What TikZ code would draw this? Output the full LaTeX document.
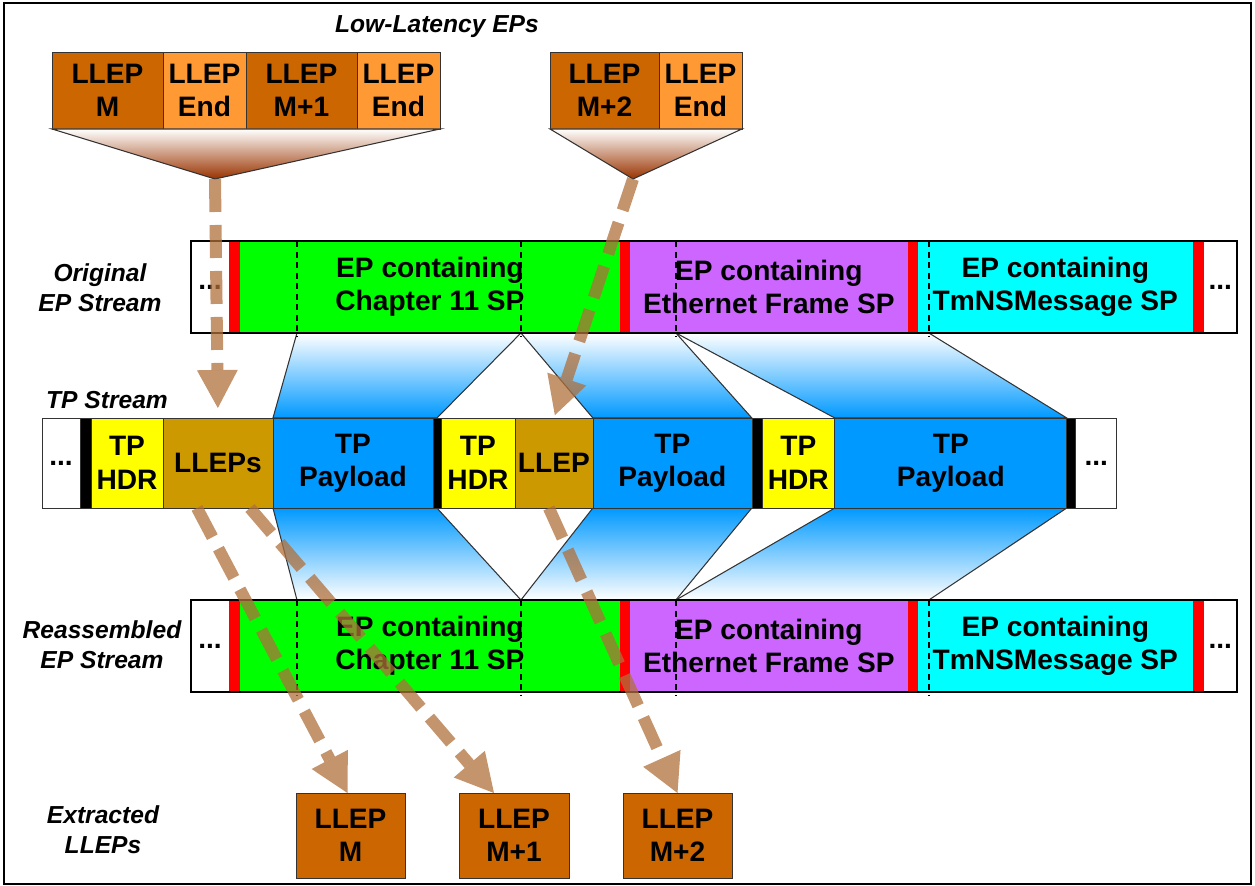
\documentclass[tikz,border=0pt]{standalone}
\usepackage{fontspec}
\setmainfont{Liberation Sans}
\usetikzlibrary{arrows.meta,positioning,backgrounds,calc}
\definecolor{lldark}{RGB}{204,102,0}
\definecolor{lllight}{RGB}{255,153,51}
\definecolor{hdryellow}{RGB}{255,255,0}
\definecolor{lltan}{RGB}{204,153,0}
\definecolor{tpblue}{RGB}{0,153,255}
\definecolor{epgreen}{RGB}{0,255,0}
\definecolor{eppurple}{RGB}{204,102,255}
\definecolor{epcyan}{RGB}{0,255,255}
\definecolor{epred}{RGB}{255,0,0}
\definecolor{arrowtan}{RGB}{176,112,59}
\definecolor{funnelbrown}{RGB}{153,51,0}
\tikzstyle{cell} = [rectangle, draw = black!80, inner sep = 0pt, outer sep = 0pt, align = center]
\tikzstyle{llep} = [cell, minimum height = 1.54cm]
\tikzstyle{tpseg} = [cell, minimum height = 1.8cm]
\tikzstyle{seg} = [rectangle, inner sep = 0pt, outer sep = 0pt, minimum height = 1.84cm, align = center]
\tikzstyle{lbl} = [align = center, font = \fontsize{14}{17}\selectfont\bfseries\itshape]
\tikzstyle{cutline} = [line width = 1pt, dash pattern = on 3.5pt off 2.5pt]
\tikzstyle{wedge} = [draw = black!80, line width = 0.6pt]
\tikzstyle{carry} = [draw = arrowtan, line width = 0.24cm, opacity = 0.75, dash pattern = on 0.66cm off 0.26cm, -{Triangle[width = 0.82cm, length = 0.76cm, line width = 0pt]}]

\begin{document}
\begin{tikzpicture}[x = 0.02cm, y = -0.02cm, font = \fontsize{16}{19}\selectfont\bfseries]
        \useasboundingbox (0,0) rectangle (1255,886);
        \draw [line width = 1.2pt] (4,3) rectangle (1251,884);
        % low-latency EPs
        \node (lowlat) [lbl] at (437,27) {Low-Latency EPs};
        \node (lm) [llep, fill = lldark, minimum width = 2.22cm, anchor = north west] at (52,52) {LLEP\\M};
        \node (le1) [llep, fill = lllight, minimum width = 1.66cm, right = 0pt of lm] {LLEP\\End};
        \node (lm1) [llep, fill = lldark, minimum width = 2.22cm, right = 0pt of le1] {LLEP\\M+1};
        \node (le2) [llep, fill = lllight, minimum width = 1.66cm, right = 0pt of lm1] {LLEP\\End};
        \node (lm2) [llep, fill = lldark, minimum width = 2.18cm, anchor = north west] at (550,52) {LLEP\\M+2};
        \node (le3) [llep, fill = lllight, minimum width = 1.66cm, right = 0pt of lm2] {LLEP\\End};
        \coordinate (fa) at (215,179);
        \coordinate (fb) at (633,179);
        \shade [wedge, top color = white, bottom color = funnelbrown] (lm.south west) -- (le2.south east) -- (fa) -- cycle;
        \shade [wedge, top color = white, bottom color = funnelbrown] (lm2.south west) -- (le3.south east) -- (fb) -- cycle;
        % original EP stream
        \node (origlbl) [lbl] at (100,288) {Original\\EP Stream};
        \node (od) [seg, minimum width = 0.76cm, anchor = north west] at (191,241) {...};
        \node (or1) [seg, fill = epred, minimum width = 0.22cm, right = 0pt of od] {};
        \node (og) [seg, fill = epgreen, minimum width = 7.6cm, right = 0pt of or1] {EP containing\\Chapter 11 SP};
        \node (or2) [seg, fill = epred, minimum width = 0.2cm, right = 0pt of og] {};
        \node (op) [seg, fill = eppurple, minimum width = 5.56cm, right = 0pt of or2] {EP containing\\Ethernet Frame SP};
        \node (or3) [seg, fill = epred, minimum width = 0.2cm, right = 0pt of op] {};
        \node (oc) [seg, fill = epcyan, minimum width = 5.5cm, right = 0pt of or3] {EP containing\\TmNSMessage SP};
        \node (or4) [seg, fill = epred, minimum width = 0.22cm, right = 0pt of oc] {};
        \node (oe) [seg, minimum width = 0.66cm, right = 0pt of or4] {...};
        \draw [line width = 0.8pt] (od.north west) rectangle (oe.south east);
        % TP stream
        \node (tplbl) [lbl] at (107,400) {TP Stream};
        \node (td) [tpseg, minimum width = 0.76cm, anchor = north west] at (42,418) {...};
        \node (k1) [tpseg, fill = black, minimum width = 0.22cm, right = 0pt of td] {};
        \node (h1) [tpseg, fill = hdryellow, minimum width = 1.44cm, right = 0pt of k1] {TP\\HDR};
        \node (lleps) [tpseg, fill = lltan, minimum width = 2.2cm, right = 0pt of h1] {LLEPs};
        \node (p1) [tpseg, fill = tpblue, minimum width = 3.2cm, right = 0pt of lleps] {TP\\Payload};
        \node (k2) [tpseg, fill = black, minimum width = 0.16cm, right = 0pt of p1] {};
        \node (h2) [tpseg, fill = hdryellow, minimum width = 1.48cm, right = 0pt of k2] {TP\\HDR};
        \node (llep) [tpseg, fill = lltan, minimum width = 1.56cm, right = 0pt of h2] {LLEP};
        \node (p2) [tpseg, fill = tpblue, minimum width = 3.18cm, right = 0pt of llep] {TP\\Payload};
        \node (k3) [tpseg, fill = black, minimum width = 0.2cm, right = 0pt of p2] {};
        \node (h3) [tpseg, fill = hdryellow, minimum width = 1.46cm, right = 0pt of k3] {TP\\HDR};
        \node (p3) [tpseg, fill = tpblue, minimum width = 4.64cm, right = 0pt of h3] {TP\\Payload};
        \node (k4) [tpseg, fill = black, minimum width = 0.18cm, right = 0pt of p3] {};
        \node (te) [tpseg, minimum width = 0.82cm, right = 0pt of k4] {...};
        % reassembled EP stream
        \node (reaslbl) [lbl] at (102,645) {Reassembled\\EP Stream};
        \node (rd) [seg, minimum width = 0.76cm, anchor = north west] at (191,600) {...};
        \node (rr1) [seg, fill = epred, minimum width = 0.22cm, right = 0pt of rd] {};
        \node (rg) [seg, fill = epgreen, minimum width = 7.6cm, right = 0pt of rr1] {EP containing\\Chapter 11 SP};
        \node (rr2) [seg, fill = epred, minimum width = 0.2cm, right = 0pt of rg] {};
        \node (rp) [seg, fill = eppurple, minimum width = 5.56cm, right = 0pt of rr2] {EP containing\\Ethernet Frame SP};
        \node (rr3) [seg, fill = epred, minimum width = 0.2cm, right = 0pt of rp] {};
        \node (rc) [seg, fill = epcyan, minimum width = 5.5cm, right = 0pt of rr3] {EP containing\\TmNSMessage SP};
        \node (rr4) [seg, fill = epred, minimum width = 0.22cm, right = 0pt of rc] {};
        \node (re) [seg, minimum width = 0.66cm, right = 0pt of rr4] {...};
        \draw [line width = 0.8pt] (rd.north west) rectangle (re.south east);
        % SP boundaries
        \coordinate (o1) at ([xshift = 1.14cm]og.south west);
        \coordinate (o2) at ([xshift = 5.62cm]og.south west);
        \coordinate (o3) at ([xshift = 0.92cm]op.south west);
        \coordinate (o4) at ([xshift = 0.22cm]oc.south west);
        \coordinate (r1) at ([xshift = 1.14cm]rg.north west);
        \coordinate (r2) at ([xshift = 5.62cm]rg.north west);
        \coordinate (r3) at ([xshift = 0.92cm]rp.north west);
        \coordinate (r4) at ([xshift = 0.22cm]rc.north west);
        \foreach \c in {o1,o2,o3,o4}
            \draw [cutline] (\c |- og.north) -- ($(\c)+(0,4)$);
        \foreach \c in {r1,r2,r3,r4}
            \draw [cutline] (\c) -- ($(\c |- rg.south)+(0,4)$);
        \begin{scope}[on background layer]
            \shade [wedge, top color = white, bottom color = tpblue] (o1) -- (o2) -- (k2.north) -- (p1.north west) -- cycle;
            \shade [wedge, top color = white, bottom color = tpblue] (o2) -- (o3) -- (p2.north east) -- (p2.north west) -- cycle;
            \shade [wedge, top color = white, bottom color = tpblue] (o3) -- (o4) -- (p3.north east) -- (p3.north west) -- cycle;
            \shade [wedge, top color = tpblue, bottom color = white] (p1.south west) -- (k2.south) -- (r2) -- (r1) -- cycle;
            \shade [wedge, top color = tpblue, bottom color = white] (p2.south west) -- (p2.south east) -- (r3) -- (r2) -- cycle;
            \shade [wedge, top color = tpblue, bottom color = white] (p3.south west) -- (p3.south east) -- (r4) -- (r3) -- cycle;
        \end{scope}
        % extracted LLEPs
        \node (extlbl) [lbl] at (103,830) {Extracted\\LLEPs};
        \node (xm) [llep, fill = lldark, minimum width = 2.18cm, minimum height = 1.7cm] at (350.5,835.5) {LLEP\\M};
        \node (xm1) [llep, fill = lldark, minimum width = 2.2cm, minimum height = 1.7cm] at (514,835.5) {LLEP\\M+1};
        \node (xm2) [llep, fill = lldark, minimum width = 2.18cm, minimum height = 1.7cm] at (677.5,835.5) {LLEP\\M+2};
        % LLEP paths
        \draw [carry, shorten > = 0.2cm] (fa) -- (lleps.north);
        \draw [carry, shorten > = 0.06cm] (fb) -- (llep.north);
        \draw [carry] ([xshift = -0.42cm]lleps.south) -- ([xshift = -0.06cm]xm.north);
        \draw [carry] ([xshift = 0.64cm]lleps.south) -- ([xshift = -0.4cm]xm1.north);
        \draw [carry] ([xshift = -0.1cm]llep.south) -- (xm2.north);
\end{tikzpicture}
\end{document}
